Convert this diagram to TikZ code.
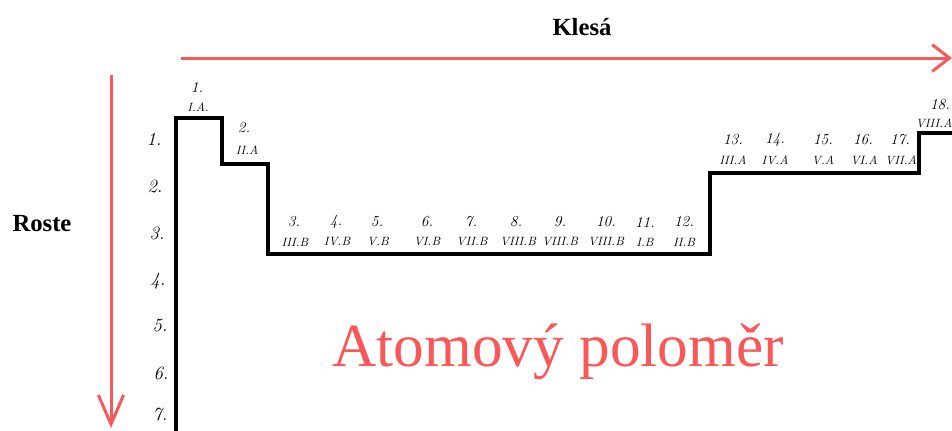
\documentclass[tikz,border=0pt]{standalone}
\usepackage{fontspec}
\newfontfamily\timesfont{Liberation Serif}
\usetikzlibrary{arrows.meta}
\definecolor{trendred}{RGB}{250,88,88}
\tikzset{every picture/.style={line width=0.75pt}}
\tikzset{
  hand/.style={font=\fontsize{11.5}{11.5}\selectfont\itshape, inner sep=0pt},
  handlab/.style={font=\fontsize{9}{9}\selectfont\itshape, inner sep=0pt},
  handper/.style={font=\fontsize{14}{14}\selectfont\itshape, inner sep=0pt},
  heading/.style={font=\timesfont\bfseries\fontsize{18.5}{18.5}\selectfont, inner sep=0pt},
}

\begin{document}
\begin{tikzpicture}[x=0.75pt,y=0.75pt,yscale=-1,xscale=1]
\useasboundingbox (0,0) rectangle (952,430);

%Arrows: trends
\coordinate (klStart) at (181,58);
\coordinate (klEnd) at (952,58);
\coordinate (roStart) at (111,75);
\coordinate (roEnd) at (111,428);
\draw [color=trendred ,line width=2.25 ,-{Straight Barb[length=13pt,width=20pt,line width=2.25pt]}] (klStart) -- (klEnd) ;
\draw [color=trendred ,line width=2.25 ,-{Straight Barb[length=22pt,width=19pt,line width=2.25pt]}] (roStart) -- (roEnd) ;

%Shape: Staircase
\draw [line width=3 ,line join=miter] (176,432) -- (176,118) -- (222,118) -- (222,164) -- (268,164) -- (268,254) -- (710,254) -- (710,173) -- (919,173) -- (919,133) -- (955,133) ;

% Text Node
\node [heading] (klesa) at (582,27) {Klesá};
% Text Node
\node [heading] (roste) at (42,224) {Roste};
% Text Node
\node [font=\timesfont\fontsize{46}{46}\selectfont, text=trendred, inner sep=0pt] (title) at (558,352) {Atomový poloměr};

% Text Node: periods
\node [handper] (p1) at (154,139) {1.};
\node [handper] (p2) at (155,186) {2.};
\node [handper] (p3) at (157,233) {3.};
\node [handper] (p4) at (158,281) {4.};
\node [handper] (p5) at (160,325) {5.};
\node [handper] (p6) at (161,373) {6.};
\node [handper] (p7) at (160,414) {7.};

% Text Node: groups 1 and 2
\node [hand] (g1) at (197,87) {1.};
\node [handlab] (g1l) at (198,107) {I.A.};
\node [hand] (g2) at (244,128) {2.};
\node [handlab] (g2l) at (247,150) {II.A};

% Text Node: groups 3 - 12
\node [hand] (g3) at (294,222) {3.};
\node [handlab] (g3l) at (295,242) {III.B};
\node [hand] (g4) at (336,222) {4.};
\node [handlab] (g4l) at (337,242) {IV.B};
\node [hand] (g5) at (377,222) {5.};
\node [handlab] (g5l) at (378,242) {V.B};
\node [hand] (g6) at (427,222) {6.};
\node [handlab] (g6l) at (427,242) {VI.B};
\node [hand] (g7) at (471,222) {7.};
\node [handlab] (g7l) at (472,242) {VII.B};
\node [hand] (g8) at (516,222) {8.};
\node [handlab] (g8l) at (518,242) {VIII.B};
\node [hand] (g9) at (560,222) {9.};
\node [handlab] (g9l) at (560,242) {VIII.B};
\node [hand] (g10) at (606,222) {10.};
\node [handlab] (g10l) at (606,242) {VIII.B};
\node [hand] (g11) at (645,222) {11.};
\node [handlab] (g11l) at (645,242) {I.B};
\node [hand] (g12) at (684,222) {12.};
\node [handlab] (g12l) at (684,242) {II.B};

% Text Node: groups 13 - 18
\node [hand] (g13) at (733,140) {13.};
\node [handlab] (g13l) at (733,160) {III.A};
\node [hand] (g14) at (775,140) {14.};
\node [handlab] (g14l) at (775,160) {IV.A};
\node [hand] (g15) at (823,140) {15.};
\node [handlab] (g15l) at (823,160) {V.A};
\node [hand] (g16) at (863,140) {16.};
\node [handlab] (g16l) at (864,160) {VI.A};
\node [hand] (g17) at (900,140) {17.};
\node [handlab] (g17l) at (901,160) {VII.A};
\node [hand] (g18) at (940,105) {18.};
\node [handlab] (g18l) at (934,123) {VIII.A};

\end{tikzpicture}
\end{document}
